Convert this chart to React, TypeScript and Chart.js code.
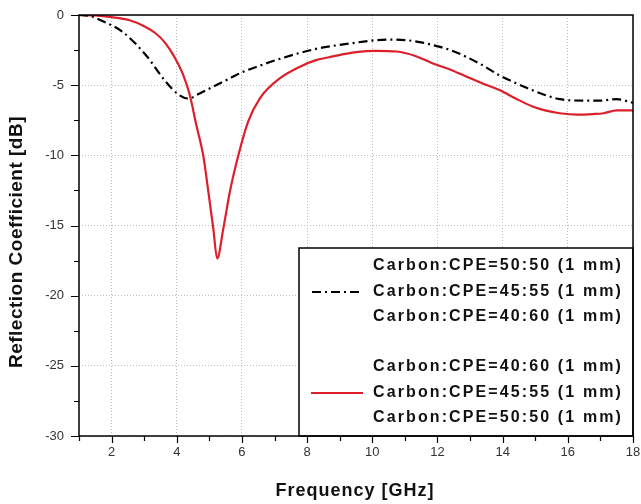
import React, { useEffect, useRef } from 'react';
import { Chart, registerables } from 'chart.js';

Chart.register(...registerables);

// Frequency (GHz) and reflection coefficient (dB) – dash-dot black curve
const freqBlack = [1, 1.3, 1.77, 2.33, 3.05, 3.66, 4.07, 4.35, 4.7, 5.12, 5.6, 6.04, 6.5, 7.06, 7.78, 8.3, 8.8, 9.4, 10.1, 10.6, 11.06, 11.5, 11.86, 12.4, 12.9, 13.4, 13.9, 14.4, 14.9, 15.3, 15.75, 16.45, 17.0, 17.5, 18];
const s11Black = [0, -0.05, -0.48, -1.19, -2.85, -4.75, -5.7, -5.95, -5.6, -5.1, -4.55, -4.04, -3.65, -3.2, -2.7, -2.4, -2.2, -2.0, -1.8, -1.75, -1.8, -1.95, -2.15, -2.5, -3.0, -3.6, -4.3, -4.85, -5.35, -5.7, -6.0, -6.1, -6.1, -6.0, -6.25];

// Solid red curve
const freqRed = [1, 1.5, 2.0, 2.53, 3.0, 3.35, 3.65, 3.93, 4.2, 4.4, 4.6, 4.81, 4.97, 5.12, 5.24, 5.43, 5.63, 5.89, 6.19, 6.55, 7.17, 7.78, 8.3, 8.8, 9.5, 10.1, 10.75, 11.3, 11.86, 12.4, 12.9, 13.4, 13.9, 14.4, 14.9, 15.3, 15.75, 16.3, 16.77, 17.1, 17.5, 18];
const s11Red = [0, -0.03, -0.15, -0.36, -0.8, -1.3, -2.0, -3.0, -4.28, -5.7, -7.84, -9.98, -12.6, -15.2, -17.35, -15.2, -12.6, -10.0, -7.6, -5.94, -4.5, -3.68, -3.2, -2.95, -2.65, -2.55, -2.6, -2.9, -3.45, -3.9, -4.4, -4.9, -5.35, -5.95, -6.5, -6.8, -7.0, -7.1, -7.06, -7.0, -6.8, -6.8];

const legendBlackLabels = ['Carbon:CPE=50:50 (1 mm)', 'Carbon:CPE=45:55 (1 mm)', 'Carbon:CPE=40:60 (1 mm)'];
const legendRedLabels = ['Carbon:CPE=40:60 (1 mm)', 'Carbon:CPE=45:55 (1 mm)', 'Carbon:CPE=50:50 (1 mm)'];

const xTitle = 'Frequency [GHz]';
const yTitle = 'Reflection Coefficient [dB]';

const FONT = 'Arial, "Liberation Sans", sans-serif';
const RED = '#dc1f2a';
const DASHDOT = [9, 4, 2, 4];

const decorPlugin = {
  id: 'decor',
  afterDatasetsDraw(chart: any) {
    const { ctx, chartArea, scales } = chart;
    const xs = scales.x;
    const ys = scales.y;
    const { left, right, top, bottom } = chartArea;
    ctx.save();

    // Legend box
    const lx = 299;
    const ly = 248;
    ctx.fillStyle = '#ffffff';
    ctx.fillRect(lx, ly, right - lx, bottom - ly);
    ctx.strokeStyle = '#000';
    ctx.lineWidth = 1.5;
    ctx.strokeRect(lx, ly, right - lx, bottom - ly);

    // legend text
    ctx.font = 'bold 16px ' + FONT;
    ctx.fillStyle = '#111';
    ctx.textBaseline = 'middle';
    ctx.textAlign = 'left';
    const drawSpaced = (txt: string, x: number, y: number, width: number) => {
      (ctx as any).letterSpacing = '0px';
      const w = ctx.measureText(txt).width;
      const sp = (width - w) / txt.length;
      (ctx as any).letterSpacing = sp + 'px';
      ctx.fillText(txt, x, y);
      (ctx as any).letterSpacing = '0px';
    };
    const textX = 373;
    const rowsBlack = [266, 292, 317];
    const rowsRed = [367, 393, 418];
    legendBlackLabels.forEach((t, i) => drawSpaced(t, textX, rowsBlack[i], 250));
    legendRedLabels.forEach((t, i) => drawSpaced(t, textX, rowsRed[i], 250));

    // legend samples
    ctx.lineWidth = 2;
    ctx.strokeStyle = '#000';
    ctx.setLineDash(DASHDOT);
    ctx.beginPath();
    ctx.moveTo(312, rowsBlack[1]);
    ctx.lineTo(362, rowsBlack[1]);
    ctx.stroke();
    ctx.setLineDash([]);
    ctx.strokeStyle = RED;
    ctx.lineWidth = 2.2;
    ctx.beginPath();
    ctx.moveTo(311, rowsRed[1]);
    ctx.lineTo(363, rowsRed[1]);
    ctx.stroke();

    // plot frame
    ctx.strokeStyle = '#000';
    ctx.lineWidth = 1.5;
    ctx.strokeRect(left, top, right - left, bottom - top);

    // tick marks
    ctx.lineWidth = 1.2;
    ctx.beginPath();
    xs.ticks.forEach((t: any) => {
      const px = Math.round(xs.getPixelForValue(t.value)) + 0.5;
      const len = t.value % 2 === 0 ? 7 : 5;
      ctx.moveTo(px, bottom);
      ctx.lineTo(px, bottom + len);
    });
    ys.ticks.forEach((t: any) => {
      const py = Math.round(ys.getPixelForValue(t.value)) + 0.5;
      const len = t.value % 5 === 0 ? 8 : 5;
      ctx.moveTo(left, py);
      ctx.lineTo(left - len, py);
    });
    ctx.stroke();

    // axis titles
    ctx.fillStyle = '#111';
    ctx.font = 'bold 18px ' + FONT;
    ctx.textAlign = 'center';
    ctx.textBaseline = 'middle';
    (ctx as any).letterSpacing = '1px';
    ctx.fillText(xTitle, 355, 491);
    ctx.translate(17, 242);
    ctx.rotate(-Math.PI / 2);
    ctx.font = 'bold 19px ' + FONT;
    (ctx as any).letterSpacing = '0.5px';
    ctx.fillText(yTitle, 0, 0);
    (ctx as any).letterSpacing = '0px';
    ctx.restore();
  },
};

export default function App() {
  const ref = useRef<HTMLCanvasElement | null>(null);

  useEffect(() => {
    if (!ref.current) return;
    const chart = new Chart(ref.current, {
      type: 'line',
      data: {
        datasets: [
          {
            label: 'black',
            data: freqBlack.map((f, i) => ({ x: f, y: s11Black[i] })),
            borderColor: '#000',
            borderWidth: 2.2,
            borderDash: DASHDOT,
            pointRadius: 0,
            cubicInterpolationMode: 'monotone',
            fill: false,
          },
          {
            label: 'red',
            data: freqRed.map((f, i) => ({ x: f, y: s11Red[i] })),
            borderColor: RED,
            borderWidth: 2.2,
            pointRadius: 0,
            cubicInterpolationMode: 'monotone',
            fill: false,
          },
        ],
      },
      options: {
        responsive: false,
        animation: false,
        devicePixelRatio: 1,
        layout: { padding: { left: 0, top: 15, right: 8, bottom: 0 } },
        plugins: { legend: { display: false }, tooltip: { enabled: false }, title: { display: false } },
        scales: {
          x: {
            type: 'linear',
            min: 1,
            max: 18,
            afterFit: (s: any) => { s.height = 68; s.paddingLeft = 0; s.paddingRight = 0; },
            ticks: {
              stepSize: 1,
              autoSkip: false,
              maxTicksLimit: 100,
              maxRotation: 0,
              padding: 9,
              color: '#333',
              font: { family: FONT, size: 13 },
              callback: (v: any) => (Number(v) % 2 === 0 ? String(v) : ''),
            },
            grid: {
              drawTicks: false,
              color: (c: any) => (c.tick && c.tick.value % 2 === 0 ? '#bdbdbd' : 'rgba(0,0,0,0)'),
              lineWidth: 1,
            },
            border: { display: false, dash: [1, 2] },
          },
          y: {
            type: 'linear',
            min: -30,
            max: 0,
            afterFit: (s: any) => { s.width = 79; s.paddingTop = 0; s.paddingBottom = 0; },
            ticks: {
              stepSize: 2.5,
              autoSkip: false,
              maxTicksLimit: 100,
              padding: 15,
              color: '#333',
              font: { family: FONT, size: 13 },
              callback: (v: any) => (Number(v) % 5 === 0 ? String(v) : ''),
            },
            grid: {
              drawTicks: false,
              color: (c: any) => (c.tick && c.tick.value % 5 === 0 ? '#bdbdbd' : 'rgba(0,0,0,0)'),
              lineWidth: 1,
            },
            border: { display: false, dash: [1, 2] },
          },
        },
      },
      plugins: [decorPlugin],
    } as any);
    return () => chart.destroy();
  }, []);

  return (
    <div style={{ position: 'absolute', left: 0, top: 0, width: 641, height: 504, background: '#fff' }}>
      <canvas ref={ref} width={641} height={504} style={{ display: 'block' }} />
    </div>
  );
}
